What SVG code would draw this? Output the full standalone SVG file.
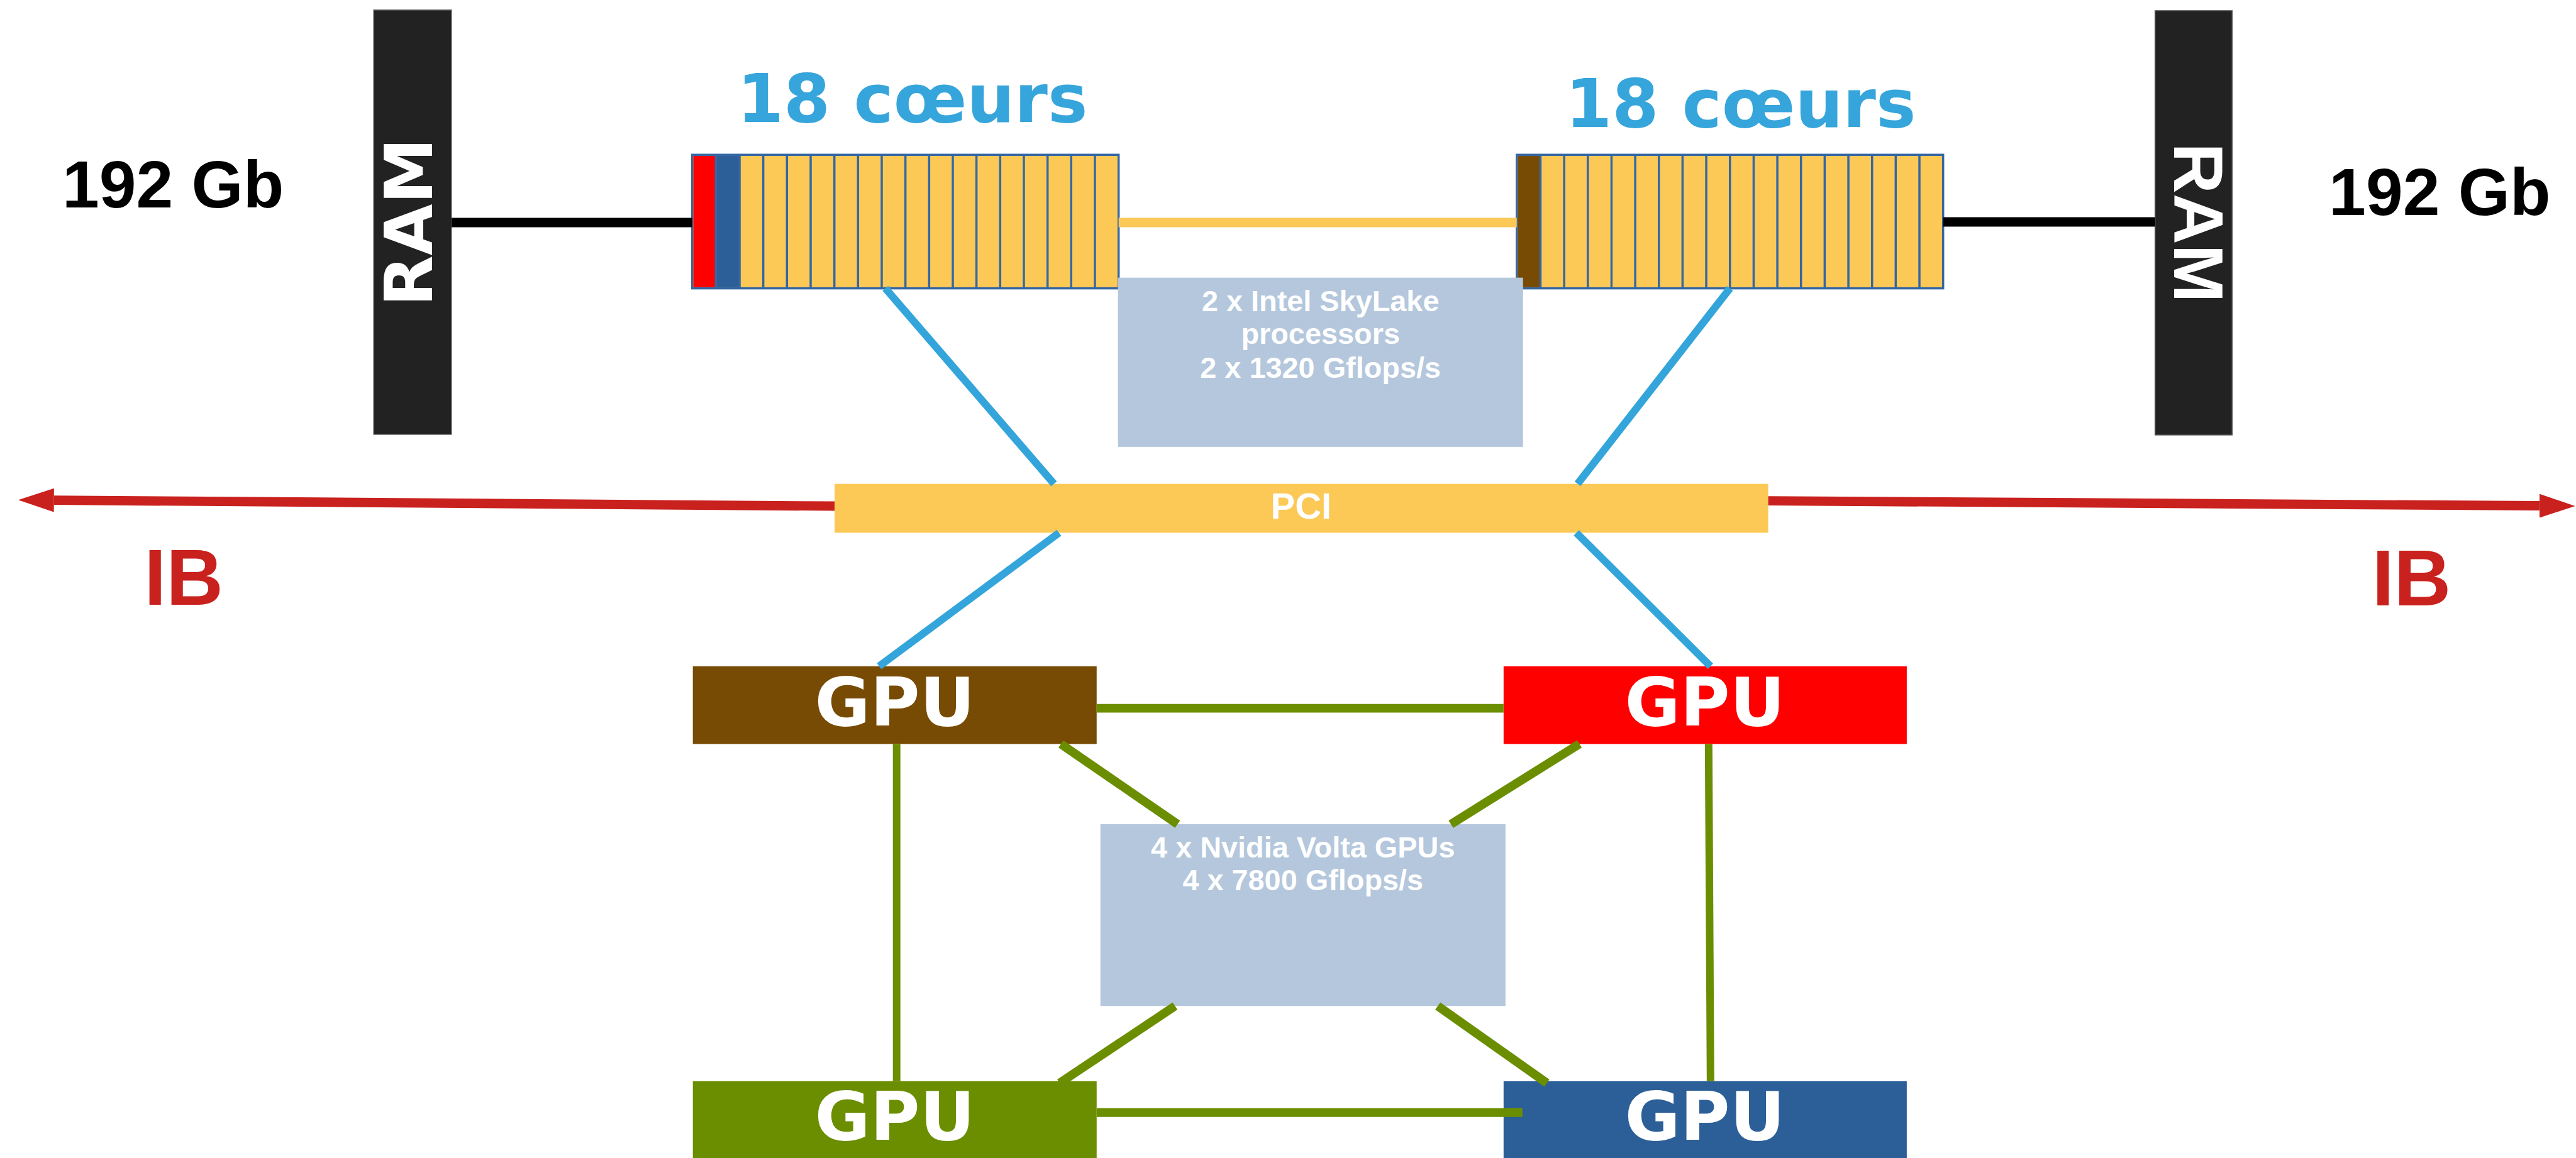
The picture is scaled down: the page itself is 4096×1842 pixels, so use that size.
<svg xmlns="http://www.w3.org/2000/svg" width="4096" height="1842" viewBox="0 0 4096 1842">
  <style>
    .ram { fill: #222222; stroke: #5a5a5a; stroke-width: 1.5; }
    .ramtxt { fill: #ffffff; font-weight: bold; text-anchor: middle; }
    .mem { fill: #000000; font-family: "Liberation Sans", Arial, sans-serif; font-weight: bold; font-size: 106px; text-anchor: middle; }
    .cores { fill: #36A5DB; font-family: "DejaVu Sans", sans-serif; font-weight: bold; font-size: 107px; text-anchor: middle; }
    .cpu { fill: #FCC956; stroke: #3567A3; stroke-width: 3.5; }
    .sep { fill: none; stroke: #3567A3; stroke-width: 3.5; }
    .info { fill: #B4C7DC; }
    .infotxt { fill: #ffffff; font-family: "Liberation Sans", Arial, sans-serif; font-weight: bold; font-size: 47px; text-anchor: middle; }
    .pci { fill: #FCC956; }
    .pcitxt { fill: #ffffff; font-family: "Liberation Sans", Arial, sans-serif; font-weight: bold; font-size: 58px; text-anchor: middle; }
    .gputxt { fill: #ffffff; font-family: "DejaVu Sans", sans-serif; font-weight: bold; font-size: 108px; text-anchor: middle; }
    .ib { fill: #C9211E; font-family: "Liberation Sans", Arial, sans-serif; font-weight: bold; font-size: 126px; text-anchor: middle; }
    .black { stroke: #000000; stroke-width: 15; fill: none; }
    .qpi { stroke: #FCC956; stroke-width: 15; fill: none; }
    .pcie { stroke: #34A5DB; stroke-width: 12; fill: none; }
    .nvl { stroke: #6B8E00; stroke-width: 14; fill: none; }
    .nvlv { stroke: #6B8E00; stroke-width: 12; fill: none; }
    .ibl { stroke: #C9211E; stroke-width: 15; fill: none; }
  </style>
  <defs>
    <marker id="ibhead" markerUnits="userSpaceOnUse" viewBox="0 0 57 38" refX="0" refY="19" markerWidth="57" markerHeight="38" orient="auto">
      <path d="M0,0 L57,19 L0,38 Z" fill="#C9211E"/>
    </marker>
  </defs>
  <rect width="4096" height="1842" fill="#ffffff"/>
  <g transform="scale(0.997)">

    <!-- memory banks -->
    <g id="ram-left">
      <rect class="ram" x="596" y="16" width="124" height="677"/>
      <text class="ramtxt" transform="translate(689,354.5) rotate(-90)" font-family="DejaVu Sans, sans-serif" font-size="106">RAM</text>
      <text class="mem" x="276" y="331">192 Gb</text>
    </g>
    <g id="ram-right">
      <rect class="ram" x="3437" y="17" width="123" height="677"/>
      <text class="ramtxt" transform="translate(3467,355.5) rotate(90)" font-family="Liberation Sans, Arial, sans-serif" font-size="112">RAM</text>
      <text class="mem" x="3891" y="343">192 Gb</text>
    </g>

    <!-- processors -->
    <g id="cpu-left">
      <text class="cores" x="1455" y="195">18 cœurs</text>
      <rect class="cpu" x="1104" y="247" width="680" height="213"/>
      <rect x="1105.8" y="248.8" width="36" height="209.4" fill="#FF0000"/>
      <rect x="1141.8" y="248.8" width="37.8" height="209.4" fill="#2C5F97"/>
      <path class="sep" d="M1141.8,247V460M1179.6,247V460M1217.3,247V460M1255.1,247V460M1292.9,247V460M1330.7,247V460M1368.4,247V460M1406.2,247V460M1444,247V460M1481.8,247V460M1519.6,247V460M1557.3,247V460M1595.1,247V460M1632.9,247V460M1670.7,247V460M1708.4,247V460M1746.2,247V460"/>
    </g>
    <g id="cpu-right">
      <text class="cores" x="2776" y="203">18 cœurs</text>
      <rect class="cpu" x="2419" y="247" width="680" height="213"/>
      <rect x="2420.8" y="248.8" width="36" height="209.4" fill="#784B04"/>
      <path class="sep" d="M2456.8,247V460M2494.6,247V460M2532.3,247V460M2570.1,247V460M2607.9,247V460M2645.7,247V460M2683.4,247V460M2721.2,247V460M2759,247V460M2796.8,247V460M2834.6,247V460M2872.3,247V460M2910.1,247V460M2947.9,247V460M2985.7,247V460M3023.4,247V460M3061.2,247V460"/>
    </g>

    <g id="cpu-info">
      <rect class="info" x="1783" y="443" width="646" height="270"/>
      <text class="infotxt" x="2106" y="496">2 x Intel SkyLake</text>
      <text class="infotxt" x="2106" y="549">processors</text>
      <text class="infotxt" x="2106" y="603">2 x 1320 Gflops/s</text>
    </g>

    <g id="pci">
      <rect class="pci" x="1331" y="772" width="1489" height="78"/>
      <text class="pcitxt" x="2075" y="827">PCI</text>
    </g>

    <!-- GPUs -->
    <g id="gpu-brown">
      <rect x="1105" y="1063" width="644" height="124" fill="#784B04"/>
      <text class="gputxt" x="1427" y="1157">GPU</text>
    </g>
    <g id="gpu-red">
      <rect x="2398" y="1063" width="643" height="124" fill="#FF0000"/>
      <text class="gputxt" x="2719" y="1157">GPU</text>
    </g>
    <g id="gpu-green">
      <rect x="1105" y="1725" width="644" height="125" fill="#6B8E00"/>
      <text class="gputxt" x="1427" y="1818">GPU</text>
    </g>
    <g id="gpu-blue">
      <rect x="2398" y="1725" width="643" height="125" fill="#2C5F97"/>
      <text class="gputxt" x="2719" y="1818">GPU</text>
    </g>

    <g id="gpu-info">
      <rect class="info" x="1755" y="1315" width="646" height="290"/>
      <text class="infotxt" x="2078" y="1368">4 x Nvidia Volta GPUs</text>
      <text class="infotxt" x="2078" y="1420">4 x 7800 Gflops/s</text>
    </g>

    <g id="ib-labels">
      <text class="ib" x="293" y="965">IB</text>
      <text class="ib" x="3846" y="966">IB</text>
    </g>

    <!-- links -->
    <g id="connectors">
      <line class="black" x1="720" y1="355" x2="1104" y2="355"/>
      <line class="black" x1="3099" y1="354" x2="3437" y2="354"/>
      <line class="qpi" x1="1784" y1="355" x2="2419" y2="355"/>

      <line class="pcie" x1="1412" y1="460" x2="1681" y2="772"/>
      <line class="pcie" x1="2759" y1="460" x2="2516" y2="772"/>
      <line class="pcie" x1="1689" y1="850" x2="1402" y2="1063"/>
      <line class="pcie" x1="2514" y1="850" x2="2728" y2="1063"/>

      <line class="nvl" x1="1749" y1="1130" x2="2398" y2="1130"/>
      <line class="nvl" x1="1749" y1="1775" x2="2428" y2="1775"/>
      <line class="nvlv" x1="1430" y1="1187" x2="1430" y2="1725"/>
      <line class="nvlv" x1="2725" y1="1187" x2="2728" y2="1725"/>
      <line class="nvl" x1="1692" y1="1187" x2="1878" y2="1315"/>
      <line class="nvl" x1="2293" y1="1605" x2="2467" y2="1728"/>
      <line class="nvl" x1="2519" y1="1187" x2="2314" y2="1315"/>
      <line class="nvl" x1="1874" y1="1605" x2="1690" y2="1728"/>

      <line class="ibl" x1="1331" y1="807.5" x2="86" y2="798" marker-end="url(#ibhead)"/>
      <line class="ibl" x1="2820" y1="799" x2="4050" y2="807" marker-end="url(#ibhead)"/>
    </g>
  </g>
</svg>
